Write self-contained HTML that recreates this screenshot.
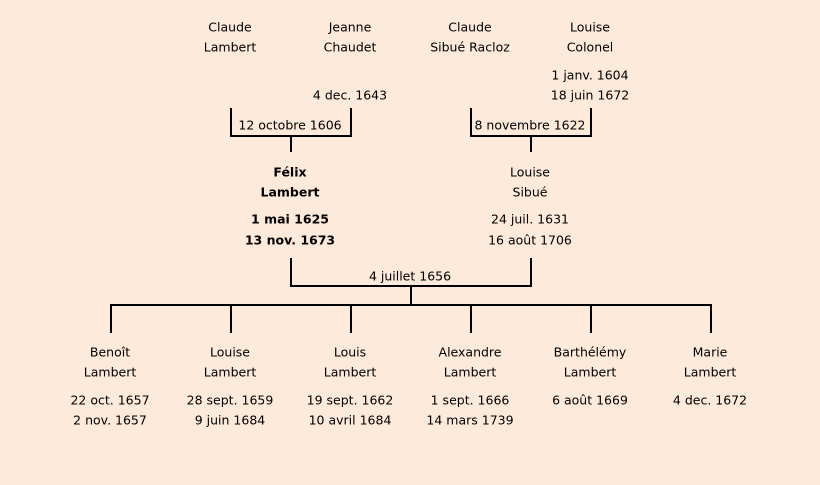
<!DOCTYPE html>
<html><head><meta charset="utf-8"><style>
html,body{margin:0;padding:0;background:#fdeada;}
svg{display:block}
text{font-family:"Comic Sans MS","DejaVu Sans","Liberation Sans",sans-serif;font-size:12.5px;fill:#000;text-anchor:middle;dominant-baseline:middle}
.b{font-weight:bold}
</style></head><body>
<svg width="820" height="485" viewBox="0 0 820 485">
<rect width="820" height="485" fill="#fdeada"/>
<g stroke="#000" stroke-width="2" fill="none">
<path d="M231 108V136H351V108M291 136V152"/>
<path d="M471 108V136H591V108M531 136V152"/>
<path d="M291 258V286H531V258M411 286V305"/>
<path d="M111 333V305H711V333M231 305V333M351 305V333M471 305V333M591 305V333"/>
</g>
<g transform="translate(0,1)">
<text x="230" y="27">Claude</text><text x="230" y="47">Lambert</text>
<text x="350" y="27">Jeanne</text><text x="350" y="47">Chaudet</text>
<text x="350" y="95">4 dec. 1643</text>
<text x="470" y="27">Claude</text><text x="470" y="47">Sibué Racloz</text>
<text x="590" y="27">Louise</text><text x="590" y="47">Colonel</text>
<text x="590" y="75">1 janv. 1604</text><text x="590" y="95">18 juin 1672</text>
<text x="290" y="125">12 octobre 1606</text>
<text x="530" y="125">8 novembre 1622</text>
<text class="b" x="290" y="172">Félix</text><text class="b" x="290" y="192">Lambert</text>
<text class="b" x="290" y="219">1 mai 1625</text><text class="b" x="290" y="240">13 nov. 1673</text>
<text x="530" y="172">Louise</text><text x="530" y="192">Sibué</text>
<text x="530" y="219">24 juil. 1631</text><text x="530" y="240">16 août 1706</text>
<text x="410" y="276">4 juillet 1656</text>
<text x="110" y="352">Benoît</text><text x="110" y="372">Lambert</text>
<text x="110" y="400">22 oct. 1657</text><text x="110" y="420">2 nov. 1657</text>
<text x="230" y="352">Louise</text><text x="230" y="372">Lambert</text>
<text x="230" y="400">28 sept. 1659</text><text x="230" y="420">9 juin 1684</text>
<text x="350" y="352">Louis</text><text x="350" y="372">Lambert</text>
<text x="350" y="400">19 sept. 1662</text><text x="350" y="420">10 avril 1684</text>
<text x="470" y="352">Alexandre</text><text x="470" y="372">Lambert</text>
<text x="470" y="400">1 sept. 1666</text><text x="470" y="420">14 mars 1739</text>
<text x="590" y="352">Barthélémy</text><text x="590" y="372">Lambert</text>
<text x="590" y="400">6 août 1669</text>
<text x="710" y="352">Marie</text><text x="710" y="372">Lambert</text>
<text x="710" y="400">4 dec. 1672</text>
</g>
</svg>
</body></html>
